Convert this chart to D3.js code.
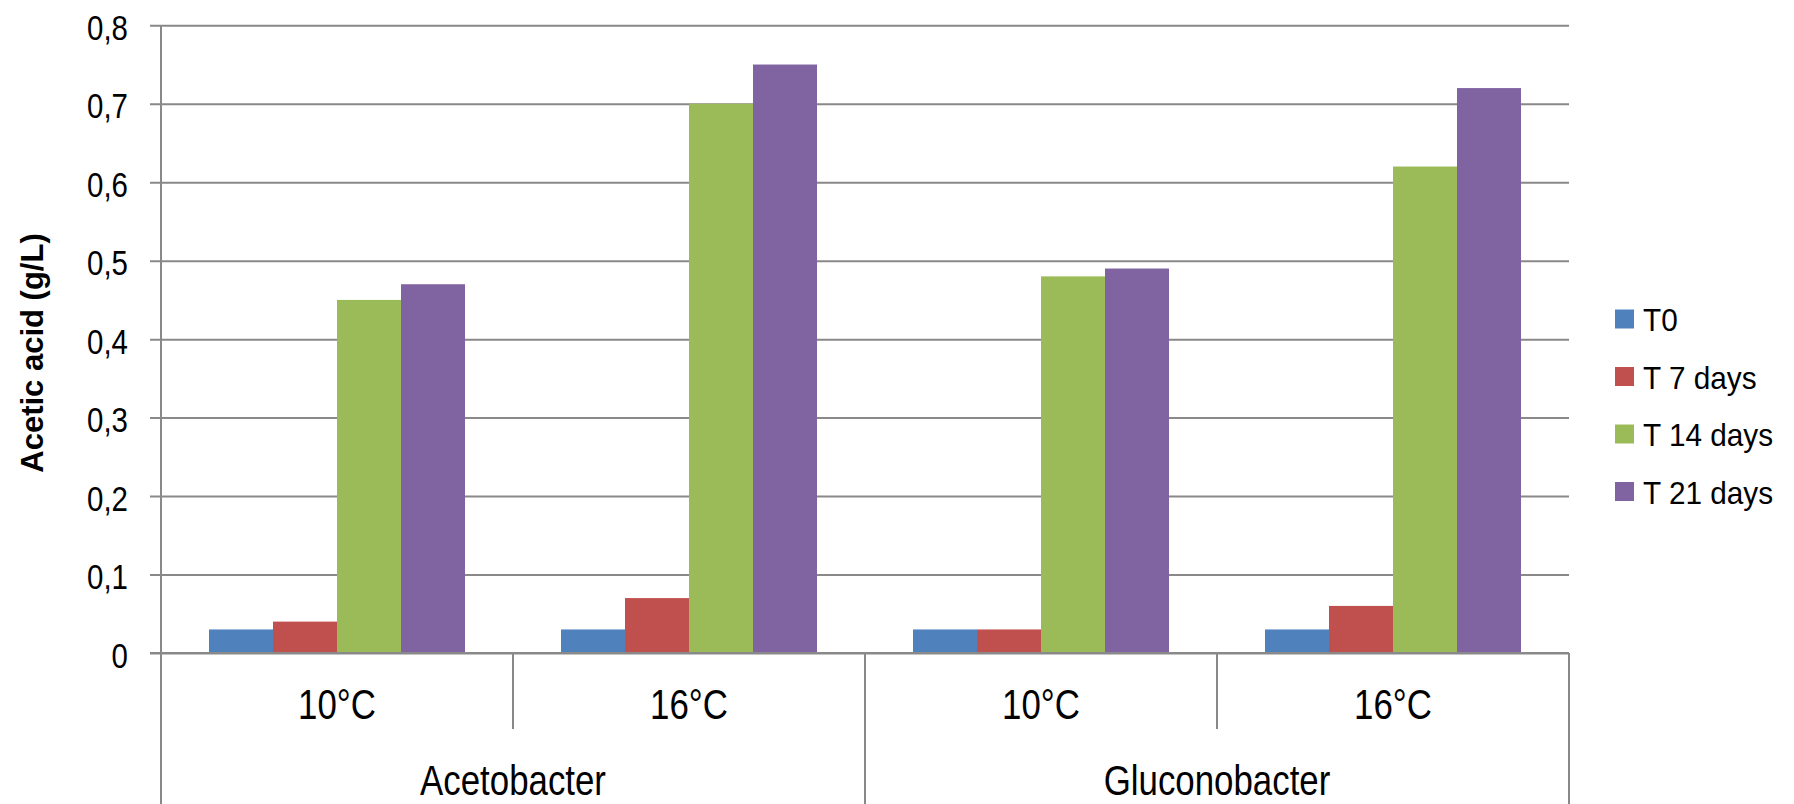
<!DOCTYPE html>
<html>
<head>
<meta charset="utf-8">
<script src="https://cdn.jsdelivr.net/npm/d3@7"></script>
<style>
  html, body { margin: 0; padding: 0; background: #ffffff; }
  svg { display: block; }
  text { font-family: "Liberation Sans", Arial, sans-serif; fill: #000; }
</style>
</head>
<body>
<svg id="chart" width="1794" height="804"></svg>
<script>
// ---- data ----
const categories = ["10°C", "16°C", "10°C", "16°C"];
const groups = ["Acetobacter", "Gluconobacter"];
const seriesNames = ["T0", "T 7 days", "T 14 days", "T 21 days"];
const t0Values = [0.03, 0.03, 0.03, 0.03];
const t7Values = [0.04, 0.07, 0.03, 0.06];
const t14Values = [0.45, 0.70, 0.48, 0.62];
const t21Values = [0.47, 0.75, 0.49, 0.72];
const yTicks = [0, 0.1, 0.2, 0.3, 0.4, 0.5, 0.6, 0.7, 0.8];
const yTickLabels = ["0", "0,1", "0,2", "0,3", "0,4", "0,5", "0,6", "0,7", "0,8"];
const yTitle = "Acetic acid (g/L)";

(function () {
const seriesValues = [t0Values, t7Values, t14Values, t21Values];
const colors = ["#4F81BD", "#C0504D", "#9BBB59", "#8064A2"];
const gridColor = "#898989";

const svg = d3.select("#chart");
const pLeft = 161, pRight = 1569, pTop = 25.3, pZero = 653, pBottom = 804;

const x0 = d3.scaleBand().domain(d3.range(categories.length)).range([pLeft, pRight]).padding(0);
const x1 = d3.scaleBand().domain(seriesNames).range([0, x0.bandwidth()]).paddingInner(0).paddingOuter(0.75);
const y = d3.scaleLinear().domain([0, 0.8]).range([pZero, pTop]);

// gridlines + tick labels via axis
const yAxis = d3.axisLeft(y)
  .tickValues(yTicks)
  .tickSize(-(pRight - 150))
  .tickFormat((d, i) => yTickLabels[i]);
const gy = svg.append("g").attr("transform", "translate(150,0)").call(yAxis);
gy.select(".domain").remove();
gy.selectAll(".tick line").attr("stroke", gridColor).attr("stroke-width", 2);
gy.selectAll(".tick text")
  .attr("x", 0).attr("dy", null)
  .attr("dominant-baseline", "central")
  .attr("transform", "translate(-22,1.5) scale(0.83,1)")
  .style("font-size", "35.5px")
  .style("font-family", "'Liberation Sans', Arial, sans-serif")
  .attr("fill", "#000");

// bars
const barData = [];
categories.forEach((c, ci) => {
  seriesNames.forEach((s, si) => {
    barData.push({ ci, s, si, v: seriesValues[si][ci] });
  });
});
svg.append("g").selectAll("rect").data(barData).join("rect")
  .attr("x", d => x0(d.ci) + x1(d.s))
  .attr("y", d => y(d.v))
  .attr("width", x1.bandwidth())
  .attr("height", d => y(0) - y(d.v))
  .attr("fill", d => colors[d.si]);

// redraw zero line over bars
svg.append("line").attr("x1", 150).attr("x2", pRight).attr("y1", y(0)).attr("y2", y(0))
  .attr("stroke", gridColor).attr("stroke-width", 2);

// y axis vertical line
svg.append("line").attr("x1", pLeft).attr("x2", pLeft).attr("y1", pTop).attr("y2", pBottom)
  .attr("stroke", gridColor).attr("stroke-width", 2);

// category dividers
const bounds = d3.range(1, categories.length + 1).map(i => i < categories.length ? x0(i) : pRight);
bounds.forEach((bx, i) => {
  const long = (i + 1) % 2 === 0;
  svg.append("line").attr("x1", bx).attr("x2", bx)
    .attr("y1", pZero).attr("y2", long ? pBottom : 729)
    .attr("stroke", gridColor).attr("stroke-width", 2);
});

// category labels
svg.append("g").selectAll("text").data(categories).join("text")
  .attr("transform", (d, i) => `translate(${x0(i) + x0.bandwidth() / 2},719) scale(0.82,1)`)
  .attr("text-anchor", "middle")
  .style("font-size", "42.5px")
  .text(d => d);

// group labels
svg.append("g").selectAll("text").data(groups).join("text")
  .attr("transform", (d, i) => `translate(${(x0(i * 2) + (i * 2 + 2 < categories.length ? x0(i * 2 + 2) : pRight)) / 2},795) scale(0.82,1)`)
  .attr("text-anchor", "middle")
  .style("font-size", "42.5px")
  .text(d => d);

// y title
svg.append("text")
  .attr("transform", "translate(43,353) rotate(-90)")
  .attr("text-anchor", "middle")
  .style("font-size", "31px")
  .style("font-weight", "bold")
  .text(yTitle);

// legend
const lg = svg.append("g");
const legendY = d3.scalePoint().domain(seriesNames).range([319, 491.5]);
seriesNames.forEach((s, i) => {
  lg.append("rect").attr("x", 1615).attr("y", legendY(s) - 9.5).attr("width", 19).attr("height", 19).attr("fill", colors[i]);
  lg.append("text")
    .attr("transform", `translate(1643,${legendY(s) + 1.5}) scale(0.93,1)`)
    .attr("dominant-baseline", "central")
    .style("font-size", "32px")
    .text(s);
});
})();
</script>
</body>
</html>
